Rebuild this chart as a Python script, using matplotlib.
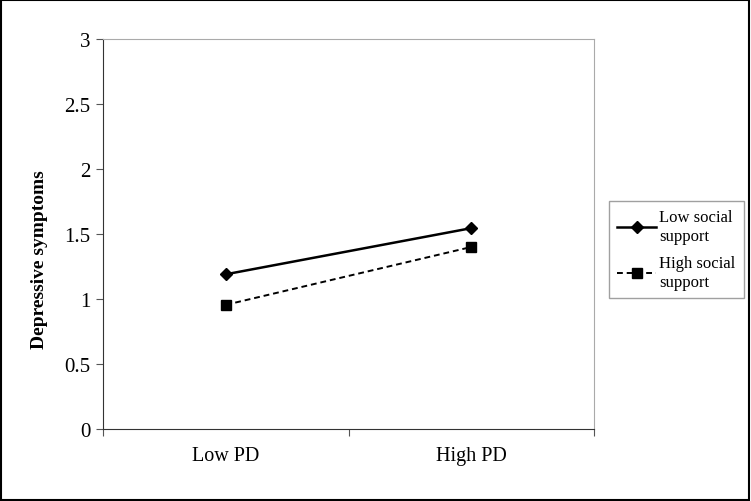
import numpy as np
import matplotlib.pyplot as plt
from matplotlib.patches import Rectangle

plt.rcParams['font.family'] = ['Liberation Serif', 'DejaVu Serif']

# Data
categories = ['Low PD', 'High PD']
low_support = [1.19, 1.545]    # Low social support
high_support = [0.955, 1.40]   # High social support
y_ticks = [0, 0.5, 1, 1.5, 2, 2.5, 3]
y_ticklabels = ['0', '0.5', '1', '1.5', '2', '2.5', '3']

fig = plt.figure(figsize=(7.51, 5.02), dpi=100)
ax = fig.add_axes([103 / 751, 1 - 430 / 502, (594 - 103) / 751, (430 - 40) / 502])

xpos = np.arange(1, len(categories) + 1)
ax.plot(xpos, low_support, color='black', lw=1.8, marker='D', ms=6,
        label='Low social\nsupport')
ax.plot(xpos, high_support, color='black', lw=1.4, ls=(0, (3, 2)), marker='s', ms=7.5,
        label='High social\nsupport')

ax.set_xlim(0.5, 2.5)
ax.set_ylim(0, 3)
ax.set_yticks(y_ticks)
ax.set_yticklabels(y_ticklabels, fontsize=15)
ax.set_xticks([0.5, 1.5, 2.5])
ax.set_xticklabels([])
ax.set_xticks(xpos, minor=True)
ax.set_xticklabels(categories, minor=True, fontsize=14.5)
ax.tick_params(axis='x', which='minor', length=0, pad=12)
ax.tick_params(axis='x', which='major', length=5, direction='out', color='#555555')
ax.tick_params(axis='y', length=5, direction='out', color='#555555', pad=4)

ax.spines['left'].set_color('#333333')
ax.spines['bottom'].set_color('#333333')
ax.spines['top'].set_color('#aaaaaa')
ax.spines['right'].set_color('#aaaaaa')

ax.set_ylabel('Depressive symptoms', fontsize=14, fontweight='bold')
ax.yaxis.set_label_coords(-0.112, 0.436)

leg = fig.legend(loc='upper left', bbox_to_anchor=(609 / 751, 1 - 202 / 502),
                 fontsize=12, frameon=True, fancybox=False, edgecolor='#888888',
                 handlelength=2.3, handletextpad=0.2, labelspacing=0.7,
                 borderpad=0.5, borderaxespad=0)
leg.get_frame().set_linewidth(1.0)

# Outer border of the figure
fig.patches.append(Rectangle((0.001, 0.001), 0.997, 0.997, transform=fig.transFigure,
                             fill=False, edgecolor='black', lw=1.5))

fig.savefig('out.png', dpi=100)
